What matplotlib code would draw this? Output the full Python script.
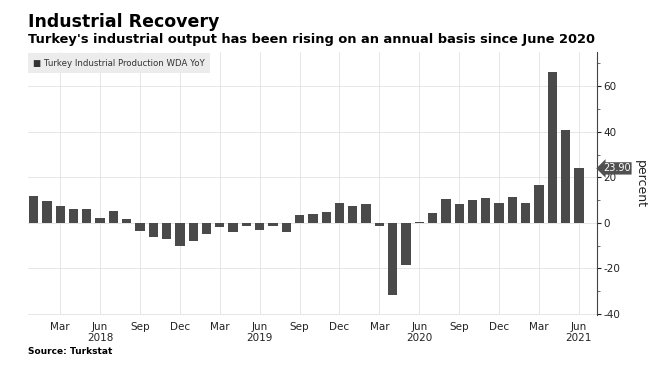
import matplotlib.pyplot as plt
from matplotlib.ticker import MultipleLocator

plt.rcParams["axes.unicode_minus"] = False

# monthly YoY, Jan 2018 .. Jun 2021
months = [
    "Jan 2018", "Feb 2018", "Mar 2018", "Apr 2018", "May 2018", "Jun 2018",
    "Jul 2018", "Aug 2018", "Sep 2018", "Oct 2018", "Nov 2018", "Dec 2018",
    "Jan 2019", "Feb 2019", "Mar 2019", "Apr 2019", "May 2019", "Jun 2019",
    "Jul 2019", "Aug 2019", "Sep 2019", "Oct 2019", "Nov 2019", "Dec 2019",
    "Jan 2020", "Feb 2020", "Mar 2020", "Apr 2020", "May 2020", "Jun 2020",
    "Jul 2020", "Aug 2020", "Sep 2020", "Oct 2020", "Nov 2020", "Dec 2020",
    "Jan 2021", "Feb 2021", "Mar 2021", "Apr 2021", "May 2021", "Jun 2021",
]
yoy = [
    11.7, 9.4, 7.5, 5.9, 5.9, 2.0, 5.1, 1.6, -3.7, -6.4, -7.0, -10.0,
    -7.8, -5.0, -1.9, -4.1, -1.6, -3.2, -1.2, -4.2, 3.4, 3.8, 4.6, 8.9,
    7.6, 8.1, -1.6, -31.5, -18.7, 0.3, 4.5, 10.5, 8.1, 10.2, 11.0, 8.9,
    11.3, 8.9, 16.7, 66.2, 40.8, 23.9,
]
tick_labels = ["Mar", "Jun", "Sep", "Dec"] * 3 + ["Mar", "Jun"]

bar_color = "#4a4a4a"
grid_color = "#e6e6e6"

fig = plt.figure(figsize=(6.58, 3.81), dpi=100)
ax = fig.add_axes([0.0426, 0.173, 0.864, 0.6905])

x = list(range(len(yoy)))
ax.bar(x, yoy, width=0.7, color=bar_color, zorder=3)

ax.set_xlim(-0.42, len(yoy) - 1 + 1.33)
ax.set_ylim(-40.5, 75)

# x ticks at Mar/Jun/Sep/Dec, year under each Jun
tick_pos = [i for i, m in enumerate(months) if m[:3] in ("Mar", "Jun", "Sep", "Dec")]
ax.set_xticks(tick_pos)
ax.set_xticklabels(tick_labels, fontsize=7.5, color="#222222")
ax.tick_params(axis="x", length=0, pad=5)
for i, m in enumerate(months):
    if m.startswith("Jun"):
        ax.text(i, -0.088, m[-4:], transform=ax.get_xaxis_transform(),
                ha="center", va="center", fontsize=7.5, color="#222222")

ax.yaxis.tick_right()
ax.yaxis.set_label_position("right")
ax.set_yticks([-40, -20, 0, 20, 40, 60])
ax.yaxis.set_minor_locator(MultipleLocator(10))
ax.tick_params(axis="y", which="major", length=3, width=0.8, pad=2,
               labelsize=7.5, colors="#222222")
ax.tick_params(axis="y", which="minor", length=2, width=0.6, colors="#555555")
ax.set_ylabel("percent", rotation=270, fontsize=9, labelpad=19, color="#222222")

ax.grid(True, color=grid_color, linewidth=0.7, zorder=0)
for side in ("top", "left", "bottom"):
    ax.spines[side].set_visible(False)
ax.spines["right"].set_color("#444444")
ax.spines["right"].set_linewidth(0.8)

# last value tag
ax.annotate(f"{yoy[-1]:.2f}", xy=(1.0, yoy[-1]), xycoords=("axes fraction", "data"),
            xytext=(4.5, 0), textcoords="offset points", ha="left", va="center",
            fontsize=7.0, color="white",
            bbox=dict(boxstyle="larrow,pad=0.12", fc="#505050", ec="none"),
            annotation_clip=False, zorder=6)

# legend box
ax.text(0.009, 0.975, "\u25a0 Turkey Industrial Production WDA YoY",
        transform=ax.transAxes, ha="left", va="top", fontsize=6.2, color="#333333",
        bbox=dict(boxstyle="square,pad=0.6", fc="#ececec", ec="none"), zorder=5)

fig.text(0.0426, 0.93, "Industrial Recovery", fontsize=12.5, fontweight="bold",
         ha="left", va="baseline", color="black")
fig.text(0.0426, 0.887, "Turkey's industrial output has been rising on an annual basis since June 2020",
         fontsize=9.4, fontweight="bold", ha="left", va="baseline", color="black")
fig.text(0.0426, 0.07, "Source: Turkstat", fontsize=6.5, fontweight="bold",
         ha="left", va="baseline", color="black")

fig.savefig("out.png", dpi=100, facecolor="white")
